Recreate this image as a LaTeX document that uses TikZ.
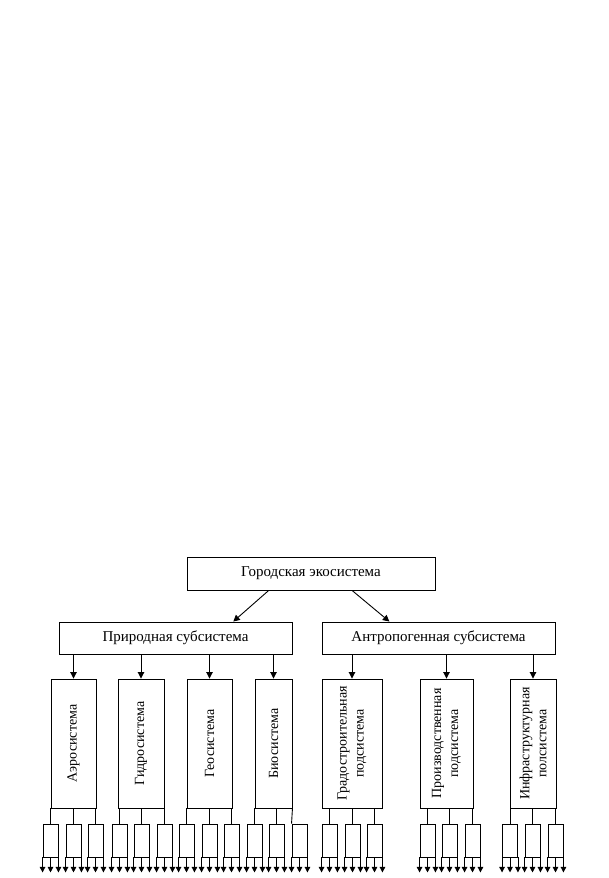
\documentclass[tikz,border=0pt]{standalone}
\usepackage{fontspec}
\setmainfont{Liberation Serif}
\usetikzlibrary{arrows.meta,calc}

\tikzset{
	box/.style={rectangle,draw,line width=0.9pt,inner sep=0pt,font=\fontsize{15pt}{18pt}\selectfont},
	sysbox/.style={box,minimum height=129pt},
	leaf/.style={rectangle,draw,line width=0.9pt,minimum width=15pt,minimum height=33pt,inner sep=0pt},
	vtext/.style={rotate=90,align=center,inner sep=0pt,font=\fontsize{14pt}{17pt}\selectfont},
	arr/.style={line width=0.9pt,-{Triangle[width=6.5pt,length=6.5pt]}},
	outarr/.style={line width=0.9pt,-{Triangle[width=5.5pt,length=5.5pt]}},
	link/.style={line width=0.9pt}
}

\begin{document}
\begin{tikzpicture}[x=1pt,y=-1pt]
	\useasboundingbox (0,0) rectangle (609,878);
	% Place nodes
	\node [box,minimum width=248pt,minimum height=33pt] (city) at (311,573.5) {Городская экосистема};
	\node [box,minimum width=233pt,minimum height=32pt] (nat) at (175.5,638) {Природная субсистема};
	\node [box,minimum width=233pt,minimum height=32pt] (anth) at (438.5,638) {Антропогенная субсистема};

	\node [sysbox,minimum width=45pt] (aero) at (73.5,743.5) {};
	\node [sysbox,minimum width=46pt] (gidro) at (141,743.5) {};
	\node [sysbox,minimum width=45pt] (geo) at (209.5,743.5) {};
	\node [sysbox,minimum width=37pt] (bio) at (273.5,743.5) {};
	\node [sysbox,minimum width=60pt] (grad) at (352,743.5) {};
	\node [sysbox,minimum width=53pt] (prod) at (446.5,743.5) {};
	\node [sysbox,minimum width=46pt] (infra) at (533,743.5) {};

	\node [vtext] (aero-t) at (aero) {Аэросистема};
	\node [vtext] (gidro-t) at (gidro) {Гидросистема};
	\node [vtext] (geo-t) at (geo) {Геосистема};
	\node [vtext] (bio-t) at (bio) {Биосистема};
	\node [vtext] (grad-t) at (grad) {Градостроительная\\подсистема};
	\node [vtext] (prod-t) at (prod) {Производственная\\подсистема};
	\node [vtext] (infra-t) at (infra) {Инфраструктурная\\полсистема};

	% Arrows between levels
	\draw [arr] ($(city.south west)!0.33!(city.south east)$) -- ($(nat.north west)!0.747!(nat.north east)$);
	\draw [arr] ($(city.south west)!0.665!(city.south east)$) -- ($(anth.north west)!0.29!(anth.north east)$);
	\foreach \sys in {aero,gidro,geo,bio}
		\draw [arr] (nat.south -| \sys.north) -- (\sys.north);
	\foreach \sys in {grad,prod,infra}
		\draw [arr] (anth.south -| \sys.north) -- (\sys.north);

	% Small boxes
	\foreach \sys/\xs in {aero/{50.5,73.5,95.5},gidro/{119.5,141.5,164.5},geo/{186.5,209.5,231.5},grad/{329.5,352.5,374.5},prod/{427.5,449.5,472.5},infra/{510,532.5,555.5}}{
		\foreach \x [count=\i] in \xs {
			\node [leaf] (\sys-\i) at (\x,840.5) {};
			\draw [link] (\sys.south -| \sys-\i.north) -- (\sys-\i.north);
		}
	}
	\node [leaf] (bio-1) at (254.5,840.5) {};
	\node [leaf] (bio-2) at (276.5,840.5) {};
	\node [leaf] (bio-3) at (299.5,840.5) {};
	\draw [link] (bio.south -| bio-1.north) -- (bio-1.north);
	\draw [link] (bio.south -| bio-2.north) -- (bio-2.north);
	\draw [link] (bio.south east) -- (bio-3.north west);

	% Outputs
	\foreach \sys in {aero,gidro,geo,bio,grad,prod,infra}
		\foreach \i in {1,2,3}
			\foreach \anc in {south west,south,south east}
				\draw [outarr] (\sys-\i.\anc) -- ++(0,15);
\end{tikzpicture}
\end{document}
